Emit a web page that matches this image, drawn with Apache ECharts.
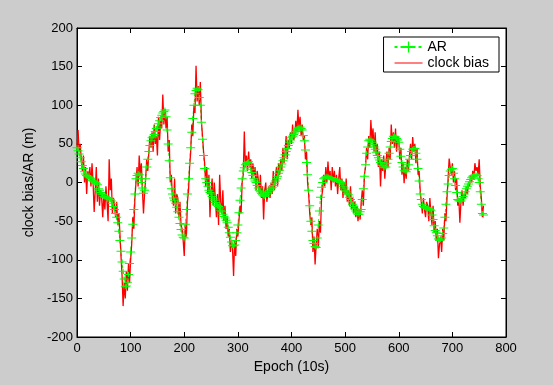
<!DOCTYPE html>
<html>
<head>
<meta charset="utf-8">
<script src="https://cdn.jsdelivr.net/npm/echarts@6/dist/echarts.min.js"></script>
<style>
html,body{margin:0;padding:0;background:#cccccc;}
#chart{width:553px;height:385px;}
</style>
</head>
<body>
<div id="chart"></div>
<script>
// AR estimates, one every 2 epochs starting at epoch 0
const arStep = 2;
const arValues = [
  45,41,37,32,27,22,18,14,11,9,
  8,7,6,5,3,2,1,0,-1,-3,
  -8,-10,-13,-15,-16,-18,-19,-19,-20,-20,
  -20,-22,-24,-27,-31,-35,-40,-45,-52,-63,
  -75,-89,-103,-115,-125,-135,-134,-129,-119,-105,
  -90,-72,-54,-35,-15,5,9,12,10,5,
  0,-7,-14,-10,5,20,30,40,48,54,
  58,60,62,66,70,72,76,80,84,87,
  90,92,94,85,68,50,28,6,-8,-15,
  -20,-23,-27,-32,-38,-45,-53,-61,-68,-71,
  -72,-54,-35,-15,5,25,45,65,83,100,
  115,119,122,120,110,100,78,56,35,18,
  5,0,-5,-10,-13,-15,-18,-21,-23,-26,
  -28,-30,-31,-33,-36,-38,-41,-44,-46,-49,
  -52,-58,-65,-71,-77,-82,-82,-81,-75,-65,
  -55,-39,-23,-7,5,15,19,23,25,26,
  27,22,17,13,9,5,2,0,-4,-7,
  -10,-12,-14,-16,-17,-18,-16,-15,-13,-11,
  -10,-8,-6,-4,-1,2,5,8,12,16,
  20,24,28,32,36,40,44,48,52,55,
  58,60,62,64,66,68,70,71,72,70,
  68,61,54,42,26,10,-10,-30,-50,-63,
  -75,-79,-83,-84,-72,-55,-37,-19,-6,0,
  5,6,7,8,7,6,6,5,5,4,
  4,4,3,3,2,1,0,-2,-5,-7,
  -10,-12,-14,-16,-19,-22,-25,-28,-31,-34,
  -37,-39,-41,-41,-38,-35,-22,-8,8,23,
  38,46,54,56,54,52,49,46,43,39,
  35,32,29,26,24,22,20,19,20,25,
  30,38,46,53,57,60,60,59,57,55,
  52,43,34,26,20,16,15,14,17,23,
  30,35,40,43,44,44,38,30,18,2,
  -15,-22,-28,-31,-32,-33,-33,-33,-34,-35,
  -36,-42,-48,-56,-62,-65,-69,-73,-75,-74,
  -72,-66,-59,-45,-28,-12,-2,9,15,17,
  18,12,5,-4,-13,-22,-23,-24,-24,-21,
  -18,-15,-12,-8,-5,-2,1,4,6,8,
  9,9,10,9,5,0,-12,-28,-40,-42
];
// clock bias estimates, one every 2 epochs starting at epoch 0
const cbStep = 2;
const cbValues = [
  45,68,40,50,30,15,35,0,20,-15,
  15,5,20,-5,25,0,-38,-10,20,-25,
  5,-30,-10,-20,-45,-15,-35,-5,-25,-50,
  30,-10,5,-40,-20,-30,-45,-25,-55,-40,
  -65,-95,-120,-160,-130,-150,-115,-140,-105,-130,
  -100,-80,-45,-60,-20,0,20,-5,35,10,
  25,-10,-40,-15,5,30,15,40,60,45,
  65,40,75,50,60,35,85,55,80,70,
  114,75,95,70,85,40,55,0,10,-20,
  -30,5,-40,-15,-20,-45,-25,-55,-60,-75,
  -95,-55,-70,-25,-10,20,40,75,60,100,
  90,151,105,125,100,130,80,60,40,25,
  -5,20,-15,10,-45,-10,5,-30,0,-20,
  -45,-15,-55,10,-25,-40,-10,-50,-30,-60,
  -45,-70,-60,-90,-75,-85,-121,-75,-95,-60,
  -70,-50,-30,-40,0,10,66,20,35,15,
  40,20,30,5,25,10,20,-10,15,5,
  -15,10,-20,-5,-48,-10,0,-25,-15,-5,
  -20,0,-15,15,-10,5,20,-5,25,10,
  30,15,45,25,40,60,30,55,45,65,
  50,75,55,60,80,65,94,70,85,60,
  75,55,60,30,40,0,-15,-40,-55,-45,
  -90,-70,-106,-80,-60,-85,-50,-65,-20,-10,
  10,-5,20,0,27,5,15,-10,20,0,
  15,-5,10,-15,5,20,-10,5,-20,0,
  -15,5,-25,-10,-30,-5,-35,-20,-40,-25,
  -45,-30,-50,-35,-48,-25,-10,-30,10,20,
  45,30,60,45,81,55,70,40,65,35,
  50,20,40,-5,30,15,35,5,25,40,
  20,45,30,75,50,65,45,70,40,60,
  55,30,45,10,25,-1,20,5,30,15,
  35,50,30,59,40,50,25,45,10,15,
  -10,-25,-40,-20,-35,-45,-25,-30,-50,-20,
  -40,-55,-30,-65,-50,-75,-60,-98,-80,-70,
  -90,-60,-75,-40,-50,-20,5,31,20,10,
  25,0,15,-10,5,-30,-20,-52,-25,-10,
  -30,-15,-20,-5,-15,0,-5,10,0,15,
  5,25,15,20,10,30,-5,-20,-45,-30
];
const xTicks = [0,100,200,300,400,500,600,700,800];
const yTicks = [-200,-150,-100,-50,0,50,100,150,200];

const arData = arValues.map((v,i)=>[i*arStep, v]);
const cbData = cbValues.map((v,i)=>[i*cbStep, v]);

const font = 'Liberation Sans, Arial, Helvetica, sans-serif';
const plusPath = 'path://M0,4H18V6H0Z M8,0H10V10H8Z';

const chart = echarts.init(document.getElementById('chart'), null, {renderer:'canvas'});
const axisCommon = {
  type:'value',
  axisLine:{show:true, onZero:false, lineStyle:{color:'#000', width:1}},
  axisTick:{show:true, inside:true, length:5, lineStyle:{color:'#000'}},
  splitLine:{show:false}
};
chart.setOption({
  backgroundColor:'#cccccc',
  animation:false,
  grid:{left:77, right:47, top:28, bottom:48, show:true, backgroundColor:'#ffffff', borderColor:'#000', borderWidth:1},
  legend:{
    orient:'vertical', right:54, top:37,
    backgroundColor:'#ffffff', borderColor:'#000', borderWidth:1,
    padding:[3,10,2,10], itemGap:2, itemWidth:28, itemHeight:14,
    textStyle:{fontFamily:font, fontSize:14, color:'#000'},
    data:[{name:'AR'}, {name:'clock bias', icon:'path://M0,0H28V1H0Z'}]
  },
  xAxis:[
    Object.assign({}, axisCommon, {
      position:'bottom', min:xTicks[0], max:xTicks[xTicks.length-1], interval:100,
      axisLabel:{show:true, color:'#000', fontFamily:font, fontSize:13, margin:5},
      name:'Epoch (10s)', nameLocation:'middle', nameGap:22,
      nameTextStyle:{fontFamily:font, fontSize:14, color:'#000'}
    }),
    Object.assign({}, axisCommon, {
      position:'top', min:xTicks[0], max:xTicks[xTicks.length-1], interval:100,
      axisLabel:{show:false}
    })
  ],
  yAxis:[
    Object.assign({}, axisCommon, {
      position:'left', min:yTicks[0], max:yTicks[yTicks.length-1], interval:50,
      axisLabel:{show:true, color:'#000', fontFamily:font, fontSize:13, margin:4},
      name:'clock bias/AR (m)', nameLocation:'middle', nameGap:37,
      nameTextStyle:{fontFamily:font, fontSize:14, color:'#000'}
    }),
    Object.assign({}, axisCommon, {
      position:'right', min:yTicks[0], max:yTicks[yTicks.length-1], interval:50,
      axisLabel:{show:false}
    })
  ],
  series:[
    {
      name:'AR', type:'line', data:arData, xAxisIndex:0, yAxisIndex:0,
      symbol:plusPath, symbolSize:[9,5], showAllSymbol:true,
      itemStyle:{color:'#00ff00'},
      lineStyle:{color:'#00ff00', width:1, type:[3,3]},
      emphasis:{disabled:true}
    },
    {
      name:'clock bias', type:'line', data:cbData, xAxisIndex:0, yAxisIndex:0,
      symbol:'none', itemStyle:{color:'#ff0000'},
      lineStyle:{color:'#ff0000', width:1.3},
      emphasis:{disabled:true}
    }
  ]
});
</script>
</body>
</html>
